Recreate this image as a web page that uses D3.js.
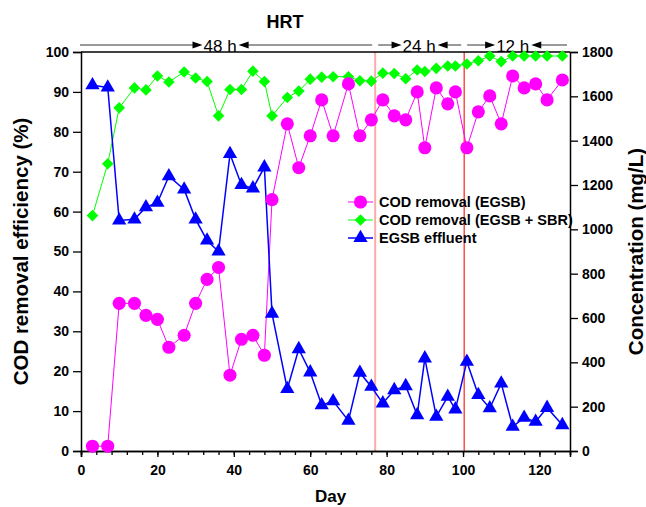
<!DOCTYPE html>
<html>
<head>
<meta charset="utf-8">
<script src="https://cdn.jsdelivr.net/npm/d3@7"></script>
<style>
  body { margin: 0; background: #fff; }
  svg { display: block; font-family: "Liberation Sans", Arial, sans-serif; }
</style>
</head>
<body>
<svg id="chart" width="646" height="507"></svg>
<script>
// ---- data ----
const days = [3,7,10,14,17,20,23,27,30,33,36,39,42,45,48,50,54,57,60,63,66,70,73,76,79,82,85,88,90,93,96,98,101,104,107,110,113,116,119,122,126];
const codEgsb = [1.2,1.2,37,37,34,33,26,29,37,43,46,19,28,29,24,63,82,71,79,88,79,92,79,83,88,84,83,90,76,91,87,90,76,85,89,82,94,91,92,88,93];
const codEgsbSbr = [59,72,86,91,90.5,94,92.5,95,93.5,92.6,84,90.6,90.6,95.2,92.6,84,88.6,90.2,93.2,93.7,93.8,93.8,92.8,92.7,94.7,94.6,93.3,95.5,95.1,95.9,96.5,96.5,97,97.8,99,97.6,99,99,99,99,99];
const effluent = [1650,1640,1040,1045,1100,1120,1240,1180,1045,950,900,1340,1200,1185,1280,620,280,460,355,207,225,137,353,290,215,275,293,162,418,155,245,188,403,253,193,305,110,150,132,195,117];
const xTicks = [0,20,40,60,80,100,120];
const yLeftTicks = [0,10,20,30,40,50,60,70,80,90,100];
const yRightTicks = [0,200,400,600,800,1000,1200,1400,1600,1800];
const hrtBoundaries = [77, 100.3];
const hrtLabels = ["48 h","24 h","12 h"];
const hrtStart = [0, 77, 100.3];
const hrtEnd = [77, 100.3, 128];
const hrtLabelAt = [36.4, 88.5, 113];
const seriesNames = ["COD removal (EGSB)","COD removal (EGSB + SBR)","EGSB effluent"];

// ---- layout ----
const W = 646, H = 507;
const m = {left: 81, right: 76, top: 52, bottom: 56};
const svg = d3.select("#chart");
const x = d3.scaleLinear().domain([0,128]).range([m.left, W - m.right]);
const yL = d3.scaleLinear().domain([0,100]).range([H - m.bottom, m.top]);
const yR = d3.scaleLinear().domain([0,1800]).range([H - m.bottom, m.top]);

const magenta = "#ff00ff", green = "#00ff00", blue = "#0000ff";

// vertical HRT boundary lines
svg.append("line").attr("x1", x(hrtBoundaries[0])).attr("x2", x(hrtBoundaries[0]))
  .attr("y1", yL(0)).attr("y2", yL(100)).attr("stroke", "#ffaaaa").attr("stroke-width", 2);
svg.append("line").attr("x1", x(hrtBoundaries[1])).attr("x2", x(hrtBoundaries[1]))
  .attr("y1", yL(0)).attr("y2", yL(100)).attr("stroke", "#ff2020").attr("stroke-width", 1.2);

// axes
const tickFont = g => g.selectAll("text").attr("font-size", 14).attr("font-weight", "bold")
  .attr("fill", "#000").attr("font-family", "Liberation Sans, Arial, sans-serif");
const styleAxis = g => {
  g.select(".domain").attr("stroke", "#000").attr("stroke-width", 1.5);
  g.selectAll(".tick line").attr("stroke", "#000").attr("stroke-width", 1.3);
  tickFont(g);
};

// minor x ticks
svg.append("g").attr("transform", `translate(0,${H - m.bottom})`)
  .call(d3.axisBottom(x).tickValues(d3.range(0, 129, 4)).tickSize(4).tickFormat(""))
  .call(styleAxis);
svg.append("g").attr("transform", `translate(0,${H - m.bottom})`)
  .call(d3.axisBottom(x).tickValues(xTicks).tickSize(6).tickPadding(8).tickFormat(d3.format("d")))
  .call(styleAxis);
svg.append("g").attr("transform", `translate(${m.left},0)`)
  .call(d3.axisLeft(yL).tickValues(yLeftTicks).tickSize(8).tickPadding(4).tickFormat(d3.format("d")))
  .call(styleAxis);
svg.append("g").attr("transform", `translate(${W - m.right},0)`)
  .call(d3.axisRight(yR).tickValues(yRightTicks).tickSize(8).tickPadding(4).tickFormat(d3.format("d")))
  .call(styleAxis);
// top frame
svg.append("line").attr("x1", x(0)).attr("x2", x(128)).attr("y1", yL(100)).attr("y2", yL(100))
  .attr("stroke", "#000").attr("stroke-width", 1.5);

// axis titles
svg.append("text").attr("x", (x(0) + x(128)) / 2 + 5).attr("y", 502).attr("text-anchor", "middle")
  .attr("font-size", 17).attr("font-weight", "bold").text("Day");
svg.append("text").attr("transform", `translate(21,${(yL(0) + yL(100)) / 2}) rotate(-90)`)
  .attr("dy", "0.35em").attr("text-anchor", "middle")
  .attr("font-size", 20.5).attr("font-weight", "bold").text("COD removal efficiency (%)");
svg.append("text").attr("transform", `translate(636,${(yL(0) + yL(100)) / 2}) rotate(-90)`)
  .attr("dy", "0.35em").attr("text-anchor", "middle")
  .attr("font-size", 20.5).attr("font-weight", "bold").text("Concentration (mg/L)");

// HRT title and period arrows
svg.append("text").attr("x", 285).attr("y", 28).attr("text-anchor", "middle")
  .attr("font-size", 18).attr("font-weight", "bold").text("HRT");
const arrowY = 45;
const arrowHead = (tip, dir) => `M${tip},${arrowY} L${tip - dir * 10},${arrowY - 3.5} L${tip - dir * 10},${arrowY + 3.5} Z`;
hrtLabels.forEach((lab, i) => {
  const t = svg.append("text").attr("x", x(hrtLabelAt[i])).attr("y", 51.5).attr("text-anchor", "middle")
    .attr("font-size", 17).attr("fill", "#000").text(lab);
  const w = t.node().getComputedTextLength();
  const l = x(hrtLabelAt[i]) - w / 2 - 1, r = x(hrtLabelAt[i]) + w / 2 + 2;
  const s = x(hrtStart[i]) + (i === 0 ? -1 : 3), e = x(hrtEnd[i]) - 3;
  svg.append("line").attr("x1", s).attr("x2", l - 6).attr("y1", arrowY).attr("y2", arrowY)
    .attr("stroke", "#000").attr("stroke-width", 0.8);
  svg.append("path").attr("d", arrowHead(l, 1)).attr("fill", "#000");
  svg.append("line").attr("x1", r + 6).attr("x2", e).attr("y1", arrowY).attr("y2", arrowY)
    .attr("stroke", "#000").attr("stroke-width", 0.8);
  svg.append("path").attr("d", arrowHead(r, -1)).attr("fill", "#000");
});

// series
const ptsEgsb = days.map((d, i) => [x(d), yL(codEgsb[i])]);
const ptsSbr = days.map((d, i) => [x(d), yL(codEgsbSbr[i])]);
const ptsEff = days.map((d, i) => [x(d), yR(effluent[i])]);
const line = d3.line();

svg.append("path").attr("d", line(ptsSbr)).attr("fill", "none").attr("stroke", green).attr("stroke-width", 1);
svg.append("path").attr("d", line(ptsEgsb)).attr("fill", "none").attr("stroke", magenta).attr("stroke-width", 1);
svg.append("path").attr("d", line(ptsEff)).attr("fill", "none").attr("stroke", blue).attr("stroke-width", 1.5);

const diamond = "M0,-5.8 L5.8,0 L0,5.8 L-5.8,0 Z";
const tri = d3.symbol().type(d3.symbolTriangle).size(88)();
const circ = d3.symbol().type(d3.symbolCircle).size(135)();

svg.append("g").selectAll("path").data(ptsSbr).join("path")
  .attr("d", diamond).attr("transform", p => `translate(${p[0]},${p[1]})`).attr("fill", green);
svg.append("g").selectAll("path").data(ptsEgsb).join("path")
  .attr("d", circ).attr("transform", p => `translate(${p[0]},${p[1]})`).attr("fill", magenta);
svg.append("g").selectAll("path").data(ptsEff).join("path")
  .attr("d", tri).attr("transform", p => `translate(${p[0]},${p[1]})`).attr("fill", blue);

// legend
const legX = 348, legY = 202, legDy = 18;
const legColors = [magenta, green, blue];
const legShapes = [circ, diamond, tri];
seriesNames.forEach((name, i) => {
  const yy = legY + i * legDy;
  svg.append("line").attr("x1", legX).attr("x2", legX + 25).attr("y1", yy).attr("y2", yy)
    .attr("stroke", legColors[i]).attr("stroke-width", i === 2 ? 1.5 : 1);
  svg.append("path").attr("d", legShapes[i]).attr("transform", `translate(${legX + 12.5},${yy})`)
    .attr("fill", legColors[i]);
  svg.append("text").attr("x", legX + 31).attr("y", yy).attr("dy", "0.36em")
    .attr("font-size", 14.5).attr("font-weight", "bold").text(name);
});
</script>
</body>
</html>
